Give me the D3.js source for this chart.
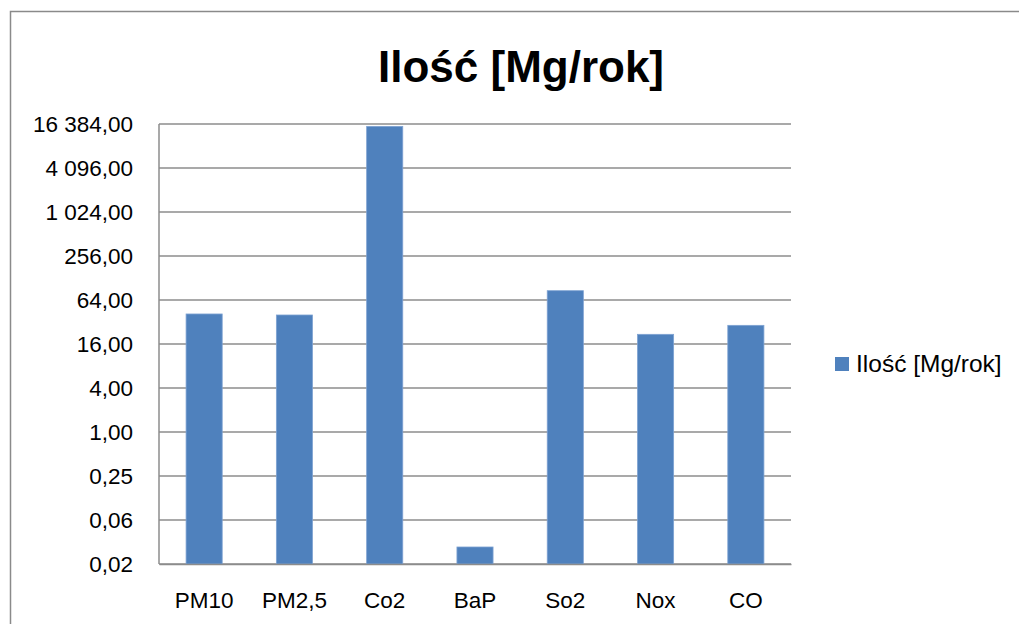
<!DOCTYPE html>
<html>
<head>
<meta charset="utf-8">
<script src="https://cdn.jsdelivr.net/npm/d3@7"></script>
<style>
  html, body { margin: 0; padding: 0; background: #fff; }
  svg { display: block; }
  text { font-family: "Liberation Sans", Arial, sans-serif; }
</style>
</head>
<body>
<svg id="chart" width="1019" height="624"></svg>
<script>
const categories = ["PM10", "PM2,5", "Co2", "BaP", "So2", "Nox", "CO"];
const values = [41.2, 39.9, 15200, 0.0267, 85.8, 21.7, 28.8];
const seriesName = "Ilość [Mg/rok]";
const titleText = "Ilość [Mg/rok]";
const yTicks = [0.015625, 0.0625, 0.25, 1, 4, 16, 64, 256, 1024, 4096, 16384];

const svg = d3.select("#chart");
const W = 1019, H = 624;
const plot = { left: 159, right: 791, top: 124, bottom: 564 };
const barColor = "#4F81BD";

// outer chart border (extends past the right and bottom edges)
svg.append("rect")
  .attr("x", 10.5).attr("y", 11.5)
  .attr("width", W + 20).attr("height", H + 20)
  .attr("fill", "#fff").attr("stroke", "#8a8a8a").attr("stroke-width", 1.5);

const locale = d3.formatLocale({ decimal: ",", thousands: "\u00a0", grouping: [3], currency: ["", ""] });
const fmt = locale.format(",.2f");

const y = d3.scaleLog().base(2)
  .domain([yTicks[0], yTicks[yTicks.length - 1]])
  .range([plot.bottom, plot.top]);

const x = d3.scaleBand()
  .domain(categories)
  .range([plot.left, plot.right])
  .paddingInner(0.6).paddingOuter(0.3);

// gridlines
svg.append("g")
  .selectAll("line").data(yTicks).join("line")
  .attr("x1", plot.left).attr("x2", plot.right)
  .attr("y1", d => y(d)).attr("y2", d => y(d))
  .attr("stroke", "#8c8c8c").attr("stroke-width", 1.5);

// y axis (labels)
const yAxis = d3.axisLeft(y).tickValues(yTicks).tickFormat(fmt).tickSize(0).tickPadding(26);
const gy = svg.append("g").attr("transform", `translate(${plot.left},0)`).call(yAxis);
gy.select(".domain").remove();
gy.selectAll("text")
  .attr("font-size", 22.5).attr("fill", "#000")
  .style("font-family", "'Liberation Sans', Arial, sans-serif");

// vertical axis line
svg.append("line")
  .attr("x1", plot.left).attr("x2", plot.left)
  .attr("y1", plot.top).attr("y2", plot.bottom)
  .attr("stroke", "#8c8c8c").attr("stroke-width", 1.5);

// bars
svg.append("g")
  .selectAll("rect").data(values).join("rect")
  .attr("x", (d, i) => x(categories[i]))
  .attr("width", x.bandwidth())
  .attr("y", d => y(d))
  .attr("height", d => y(yTicks[0]) - y(d))
  .attr("fill", barColor)
  .attr("stroke", "#7ea2d2").attr("stroke-width", 0.8);

// x axis labels
const xAxis = d3.axisBottom(x).tickSize(0).tickPadding(28);
const gx = svg.append("g").attr("transform", `translate(0,${plot.bottom})`).call(xAxis);
gx.select(".domain").attr("stroke", "#8c8c8c").attr("stroke-width", 1.5);
gx.selectAll("text")
  .attr("font-size", 22.5).attr("fill", "#000")
  .style("font-family", "'Liberation Sans', Arial, sans-serif");

// title
svg.append("text")
  .attr("x", 521).attr("y", 82)
  .attr("text-anchor", "middle")
  .attr("font-size", 44).attr("font-weight", "bold").attr("fill", "#000")
  .text(titleText);

// legend
const lg = svg.append("g").attr("transform", "translate(835,357)");
lg.append("rect").attr("width", 14).attr("height", 14).attr("fill", barColor);
lg.append("text").attr("x", 21).attr("y", 14.5)
  .attr("font-size", 24.5).attr("fill", "#000")
  .text(seriesName);
</script>
</body>
</html>
